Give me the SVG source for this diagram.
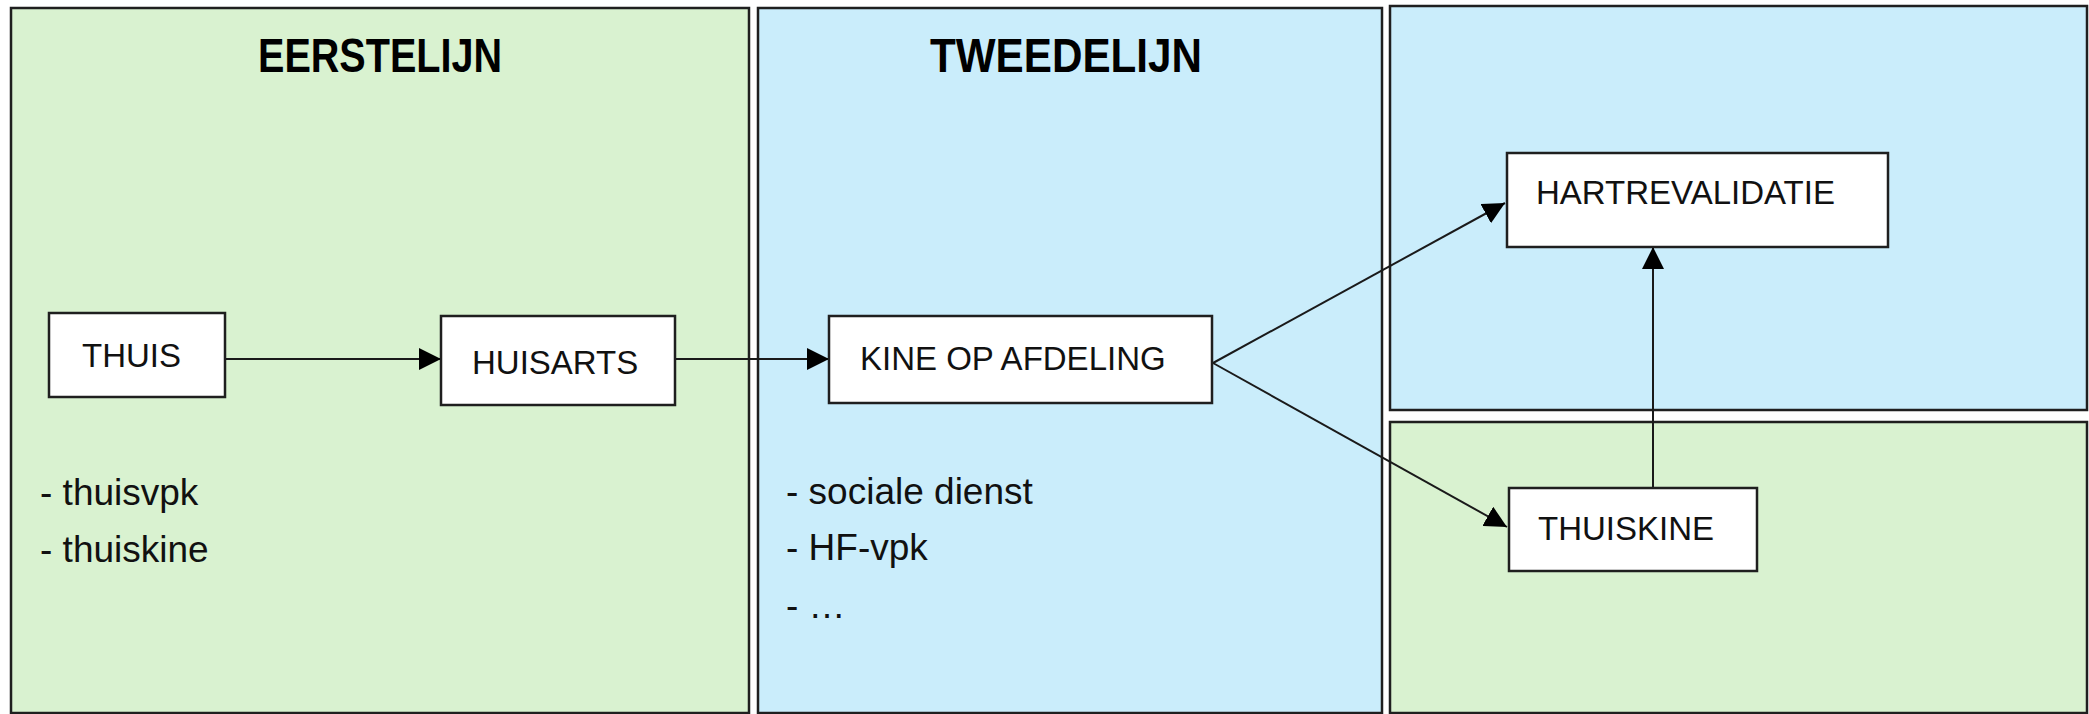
<svg xmlns="http://www.w3.org/2000/svg" width="2089" height="714" viewBox="0 0 2089 714">
<style>
.green{fill:#D9F2D0;stroke:#1f1f1f;stroke-width:2.5}
.blue{fill:#CAEDFB;stroke:#1f1f1f;stroke-width:2.5}
.box{fill:#ffffff;stroke:#1f1f1f;stroke-width:2.5}
.lbl{font-family:"Liberation Sans",Arial,sans-serif;font-size:33px;fill:#111}
.title{font-family:"Liberation Sans",Arial,sans-serif;font-size:48px;font-weight:bold;fill:#000}
.list{font-family:"Liberation Sans",Arial,sans-serif;font-size:37px;fill:#111}
.conn{stroke:#1a1a1a;stroke-width:2;fill:none;marker-end:url(#arr)}
</style>
<defs>
<marker id="arr" markerUnits="userSpaceOnUse" markerWidth="22" markerHeight="22" refX="22" refY="11" orient="auto">
<path d="M0,0 L22,11 L0,22 z" fill="#000"/>
</marker>
</defs>
<rect width="2089" height="714" fill="#ffffff"/>
<g id="panel-eerstelijn">
<rect class="green" x="11" y="8" width="738" height="705"/>
<text class="title" x="258" y="72" textLength="244" lengthAdjust="spacingAndGlyphs">EERSTELIJN</text>
<text class="list" x="40" y="505">- thuisvpk</text>
<text class="list" x="40" y="562">- thuiskine</text>
</g>
<g id="panel-tweedelijn">
<rect class="blue" x="758" y="8" width="624" height="705"/>
<text class="title" x="930" y="72" textLength="272" lengthAdjust="spacingAndGlyphs">TWEEDELIJN</text>
<text class="list" x="786" y="504">- sociale dienst</text>
<text class="list" x="786" y="560">- HF-vpk</text>
<text class="list" x="786" y="618">- …</text>
</g>
<g id="panel-right-top">
<rect class="blue" x="1390" y="6" width="697" height="404"/>
</g>
<g id="panel-right-bottom">
<rect class="green" x="1390" y="422" width="697" height="291"/>
</g>
<g id="connectors">
<line class="conn" x1="225" y1="359" x2="441" y2="359"/>
<line class="conn" x1="675" y1="359" x2="829" y2="359"/>
<line class="conn" x1="1213" y1="363" x2="1505" y2="203"/>
<line class="conn" x1="1213" y1="363" x2="1507" y2="527"/>
<line class="conn" x1="1653" y1="488" x2="1653" y2="247"/>
</g>
<g id="node-thuis">
<rect class="box" x="49" y="313" width="176" height="84"/>
<text class="lbl" x="82" y="367">THUIS</text>
</g>
<g id="node-huisarts">
<rect class="box" x="441" y="316" width="234" height="89"/>
<text class="lbl" x="472" y="374">HUISARTS</text>
</g>
<g id="node-kine">
<rect class="box" x="829" y="316" width="383" height="87"/>
<text class="lbl" x="860" y="370">KINE OP AFDELING</text>
</g>
<g id="node-hartrevalidatie">
<rect class="box" x="1507" y="153" width="381" height="94"/>
<text class="lbl" x="1536" y="204">HARTREVALIDATIE</text>
</g>
<g id="node-thuiskine">
<rect class="box" x="1509" y="488" width="248" height="83"/>
<text class="lbl" x="1538" y="540">THUISKINE</text>
</g>
</svg>
